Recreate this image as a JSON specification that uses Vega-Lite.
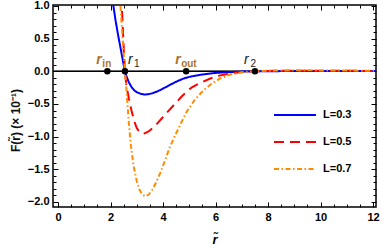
{
  "$schema": "https://vega.github.io/schema/vega-lite/v6.json",
  "width": 323,
  "height": 202,
  "autosize": {"type": "none"},
  "padding": {"left": 53, "top": 5, "right": 6, "bottom": 41},
  "config": {
    "font": "Liberation Sans",
    "view": {"stroke": "black", "strokeWidth": 1.5},
    "axis": {"grid": false, "domain": false, "tickColor": "black", "tickWidth": 1, "labelFont": "Liberation Sans", "labelFontWeight": "bold", "labelFontSize": 11, "labelColor": "black", "titleFont": "Liberation Sans", "titleColor": "black", "titleFontSize": 11, "titleFontWeight": "normal", "labelOverlap": false, "labelFlush": false}
  },
  "datasets": {
    "curves": [
      {"L": 0.3, "r": 2.0, "F": 1.45}, {"L": 0.3, "r": 2.11, "F": 1.0}, {"L": 0.3, "r": 2.2, "F": 0.76}, {"L": 0.3, "r": 2.3, "F": 0.53}, {"L": 0.3, "r": 2.4, "F": 0.32}, {"L": 0.3, "r": 2.5, "F": 0.1}, {"L": 0.3, "r": 2.55, "F": 0.0}, {"L": 0.3, "r": 2.62, "F": -0.09}, {"L": 0.3, "r": 2.7, "F": -0.17}, {"L": 0.3, "r": 2.8, "F": -0.24}, {"L": 0.3, "r": 2.9, "F": -0.29}, {"L": 0.3, "r": 3.0, "F": -0.32}, {"L": 0.3, "r": 3.15, "F": -0.345}, {"L": 0.3, "r": 3.3, "F": -0.355}, {"L": 0.3, "r": 3.45, "F": -0.35}, {"L": 0.3, "r": 3.6, "F": -0.335}, {"L": 0.3, "r": 3.8, "F": -0.305}, {"L": 0.3, "r": 4.0, "F": -0.265}, {"L": 0.3, "r": 4.25, "F": -0.21}, {"L": 0.3, "r": 4.5, "F": -0.16}, {"L": 0.3, "r": 4.75, "F": -0.115}, {"L": 0.3, "r": 5.0, "F": -0.085}, {"L": 0.3, "r": 5.4, "F": -0.055}, {"L": 0.3, "r": 5.9, "F": -0.028}, {"L": 0.3, "r": 6.5, "F": -0.012}, {"L": 0.3, "r": 7.0, "F": -0.004}, {"L": 0.3, "r": 7.5, "F": 0.0}, {"L": 0.3, "r": 8.0, "F": 0.002}, {"L": 0.3, "r": 9.0, "F": 0.004}, {"L": 0.3, "r": 10.0, "F": 0.004}, {"L": 0.3, "r": 11.0, "F": 0.003}, {"L": 0.3, "r": 12.2, "F": 0.003},
      {"L": 0.5, "r": 2.3, "F": 1.9}, {"L": 0.5, "r": 2.43, "F": 1.0}, {"L": 0.5, "r": 2.47, "F": 0.65}, {"L": 0.5, "r": 2.51, "F": 0.3}, {"L": 0.5, "r": 2.55, "F": 0.0}, {"L": 0.5, "r": 2.6, "F": -0.2}, {"L": 0.5, "r": 2.7, "F": -0.42}, {"L": 0.5, "r": 2.8, "F": -0.6}, {"L": 0.5, "r": 2.9, "F": -0.76}, {"L": 0.5, "r": 3.0, "F": -0.87}, {"L": 0.5, "r": 3.1, "F": -0.93}, {"L": 0.5, "r": 3.2, "F": -0.955}, {"L": 0.5, "r": 3.3, "F": -0.95}, {"L": 0.5, "r": 3.45, "F": -0.92}, {"L": 0.5, "r": 3.6, "F": -0.87}, {"L": 0.5, "r": 3.8, "F": -0.79}, {"L": 0.5, "r": 4.0, "F": -0.7}, {"L": 0.5, "r": 4.2, "F": -0.61}, {"L": 0.5, "r": 4.45, "F": -0.5}, {"L": 0.5, "r": 4.7, "F": -0.39}, {"L": 0.5, "r": 4.9, "F": -0.31}, {"L": 0.5, "r": 5.1, "F": -0.245}, {"L": 0.5, "r": 5.4, "F": -0.18}, {"L": 0.5, "r": 5.8, "F": -0.11}, {"L": 0.5, "r": 6.1, "F": -0.07}, {"L": 0.5, "r": 6.45, "F": -0.04}, {"L": 0.5, "r": 6.8, "F": -0.018}, {"L": 0.5, "r": 7.2, "F": -0.005}, {"L": 0.5, "r": 7.5, "F": 0.0}, {"L": 0.5, "r": 8.0, "F": 0.006}, {"L": 0.5, "r": 9.0, "F": 0.01}, {"L": 0.5, "r": 10.0, "F": 0.009}, {"L": 0.5, "r": 11.0, "F": 0.007}, {"L": 0.5, "r": 12.2, "F": 0.006},
      {"L": 0.7, "r": 2.28, "F": 1.7}, {"L": 0.7, "r": 2.38, "F": 1.0}, {"L": 0.7, "r": 2.47, "F": 0.45}, {"L": 0.7, "r": 2.55, "F": 0.0}, {"L": 0.7, "r": 2.62, "F": -0.35}, {"L": 0.7, "r": 2.7, "F": -0.8}, {"L": 0.7, "r": 2.78, "F": -1.15}, {"L": 0.7, "r": 2.88, "F": -1.45}, {"L": 0.7, "r": 3.0, "F": -1.68}, {"L": 0.7, "r": 3.1, "F": -1.81}, {"L": 0.7, "r": 3.2, "F": -1.88}, {"L": 0.7, "r": 3.32, "F": -1.915}, {"L": 0.7, "r": 3.45, "F": -1.89}, {"L": 0.7, "r": 3.6, "F": -1.81}, {"L": 0.7, "r": 3.75, "F": -1.69}, {"L": 0.7, "r": 3.9, "F": -1.55}, {"L": 0.7, "r": 4.08, "F": -1.36}, {"L": 0.7, "r": 4.25, "F": -1.17}, {"L": 0.7, "r": 4.46, "F": -0.98}, {"L": 0.7, "r": 4.7, "F": -0.78}, {"L": 0.7, "r": 4.9, "F": -0.62}, {"L": 0.7, "r": 5.2, "F": -0.44}, {"L": 0.7, "r": 5.54, "F": -0.29}, {"L": 0.7, "r": 5.85, "F": -0.19}, {"L": 0.7, "r": 6.17, "F": -0.11}, {"L": 0.7, "r": 6.55, "F": -0.05}, {"L": 0.7, "r": 7.0, "F": -0.015}, {"L": 0.7, "r": 7.5, "F": 0.0}, {"L": 0.7, "r": 8.0, "F": 0.01}, {"L": 0.7, "r": 9.0, "F": 0.016}, {"L": 0.7, "r": 10.0, "F": 0.014}, {"L": 0.7, "r": 11.0, "F": 0.011}, {"L": 0.7, "r": 12.2, "F": 0.009}
    ],
    "points": [
      {"name": "rin", "r": 1.88, "F": 0, "main": "r", "sub": "in", "kind": "radius"},
      {"name": "r1", "r": 2.55, "F": 0, "main": "r", "sub": "1", "kind": "root"},
      {"name": "rout", "r": 4.88, "F": 0, "main": "r", "sub": "out", "kind": "radius"},
      {"name": "r2", "r": 7.5, "F": 0, "main": "r", "sub": "2", "kind": "root"}
    ]
  },
  "resolve": {"axis": {"x": "independent", "y": "independent"}},
  "layer": [
    {
      "data": {"name": "points"},
      "mark": {"type": "rule", "color": "black", "strokeWidth": 1},
      "encoding": {"y": {"datum": 0, "type": "quantitative", "scale": {"domain": [-2.077, 1.015], "nice": false, "zero": false}, "axis": null}}
    },
    {
      "data": {"name": "curves"},
      "mark": {"type": "line", "strokeWidth": 2, "clip": true},
      "encoding": {
        "x": {"field": "r", "type": "quantitative", "scale": {"domain": [-0.19, 12.11], "nice": false, "zero": false},
          "axis": {"orient": "bottom", "values": [0, 0.5, 1, 1.5, 2, 2.5, 3, 3.5, 4, 4.5, 5, 5.5, 6, 6.5, 7, 7.5, 8, 8.5, 9, 9.5, 10, 10.5, 11, 11.5, 12],
            "labelExpr": "datum.value % 2 === 0 ? format(datum.value, 'd') : ''",
            "tickSize": {"condition": {"test": "datum.value % 2 === 0", "value": -5}, "value": -3},
            "labelPadding": 9, "title": "r̃", "titleFontStyle": "italic", "titleFontWeight": "bold", "titleFontSize": 13, "titlePadding": 9}},
        "y": {"field": "F", "type": "quantitative", "scale": {"domain": [-2.077, 1.015], "nice": false, "zero": false},
          "axis": {"orient": "left", "values": [-2.0, -1.9, -1.8, -1.7, -1.6, -1.5, -1.4, -1.3, -1.2, -1.1, -1.0, -0.9, -0.8, -0.7, -0.6, -0.5, -0.4, -0.3, -0.2, -0.1, 0, 0.1, 0.2, 0.3, 0.4, 0.5, 0.6, 0.7, 0.8, 0.9, 1.0],
            "labelExpr": "abs(datum.value*2 - round(datum.value*2)) < 0.001 ? format(datum.value, '.1f') : ''",
            "tickSize": {"condition": {"test": "abs(datum.value*2 - round(datum.value*2)) < 0.001", "value": -5}, "value": -3},
            "labelPadding": 9, "title": "F(r̃)  (× 10⁻¹)", "titleFontSize": 12, "titleFontWeight": "bold", "titleColor": "#111111", "titlePadding": 5, "titleY": 115}},
        "color": {"field": "L", "type": "nominal", "scale": {"domain": [0.3, 0.5, 0.7], "range": ["#0000ff", "#ff0000", "#ff8c00"]},
          "legend": {"orient": "none", "legendX": 220, "legendY": 88, "title": null, "labelExpr": "'L=' + datum.label", "symbolType": "stroke", "symbolSize": 1764, "symbolStrokeWidth": 2, "rowPadding": -21.5, "labelFontSize": 11, "labelFontWeight": "bold", "labelFont": "Liberation Sans", "labelColor": "black", "labelOffset": 6, "padding": 0}},
        "strokeDash": {"field": "L", "type": "nominal", "scale": {"domain": [0.3, 0.5, 0.7], "range": [[1, 0], [10, 6], [5, 2.5, 1.5, 2.5]]},
          "legend": {"orient": "none", "legendX": 220, "legendY": 88, "title": null, "labelExpr": "'L=' + datum.label", "symbolType": "stroke", "symbolSize": 1764, "symbolStrokeWidth": 2, "rowPadding": -21.5, "labelFontSize": 11, "labelFontWeight": "bold", "labelFont": "Liberation Sans", "labelColor": "black", "labelOffset": 6, "padding": 0}},
        "order": {"field": "r", "type": "quantitative"}
      }
    },
    {
      "data": {"name": "points"},
      "mark": {"type": "circle", "color": "black", "opacity": 1, "size": 42},
      "encoding": {
        "x": {"field": "r", "type": "quantitative",
          "axis": {"orient": "top", "labels": false, "title": null, "values": [0, 0.5, 1, 1.5, 2, 2.5, 3, 3.5, 4, 4.5, 5, 5.5, 6, 6.5, 7, 7.5, 8, 8.5, 9, 9.5, 10, 10.5, 11, 11.5, 12],
            "tickSize": {"condition": {"test": "datum.value % 2 === 0", "value": -5}, "value": -3}}},
        "y": {"field": "F", "type": "quantitative",
          "axis": {"orient": "right", "labels": false, "title": null, "values": [-2.0, -1.9, -1.8, -1.7, -1.6, -1.5, -1.4, -1.3, -1.2, -1.1, -1.0, -0.9, -0.8, -0.7, -0.6, -0.5, -0.4, -0.3, -0.2, -0.1, 0, 0.1, 0.2, 0.3, 0.4, 0.5, 0.6, 0.7, 0.8, 0.9, 1.0],
            "tickSize": {"condition": {"test": "abs(datum.value*2 - round(datum.value*2)) < 0.001", "value": -5}, "value": -3}}}
      }
    },
    {
      "data": {"name": "points"},
      "transform": [{"filter": "datum.kind === 'radius'"}],
      "mark": {"type": "text", "font": "Liberation Sans", "fontStyle": "italic", "fontWeight": "bold", "fontSize": 14, "align": "left", "baseline": "alphabetic", "dx": -11, "dy": -7, "color": "#a8742c", "opacity": 1},
      "encoding": {
        "x": {"field": "r", "type": "quantitative", "axis": null},
        "y": {"field": "F", "type": "quantitative", "axis": null},
        "text": {"field": "main"}
      }
    },
    {
      "data": {"name": "points"},
      "transform": [{"filter": "datum.kind === 'radius'"}],
      "mark": {"type": "text", "font": "Liberation Sans", "fontWeight": "bold", "fontSize": 10, "align": "left", "baseline": "alphabetic", "dx": -5, "dy": -4, "color": "#a8742c", "opacity": 1},
      "encoding": {
        "x": {"field": "r", "type": "quantitative", "axis": null},
        "y": {"field": "F", "type": "quantitative", "axis": null},
        "text": {"field": "sub"}
      }
    },
    {
      "data": {"name": "points"},
      "transform": [{"filter": "datum.name === 'r2'"}],
      "mark": {"type": "text", "font": "Liberation Sans", "fontStyle": "italic", "fontSize": 14, "align": "left", "baseline": "alphabetic", "dx": -11, "dy": -7, "color": "#222222"},
      "encoding": {
        "x": {"field": "r", "type": "quantitative", "axis": null},
        "y": {"field": "F", "type": "quantitative", "axis": null},
        "text": {"field": "main"}
      }
    },
    {
      "data": {"name": "points"},
      "transform": [{"filter": "datum.name === 'r2'"}],
      "mark": {"type": "text", "font": "Liberation Sans", "fontSize": 10, "align": "left", "baseline": "alphabetic", "dx": -4.5, "dy": -4, "color": "#222222"},
      "encoding": {
        "x": {"field": "r", "type": "quantitative", "axis": null},
        "y": {"field": "F", "type": "quantitative", "axis": null},
        "text": {"field": "sub"}
      }
    },
    {
      "data": {"name": "points"},
      "transform": [{"filter": "datum.name === 'r1'"}],
      "mark": {"type": "text", "font": "Liberation Sans", "fontStyle": "italic", "fontSize": 14, "align": "left", "baseline": "alphabetic", "dx": 3, "dy": -7, "color": "#222222"},
      "encoding": {
        "x": {"field": "r", "type": "quantitative", "axis": null},
        "y": {"field": "F", "type": "quantitative", "axis": null},
        "text": {"field": "main"}
      }
    },
    {
      "data": {"name": "points"},
      "transform": [{"filter": "datum.name === 'r1'"}],
      "mark": {"type": "text", "font": "Liberation Sans", "fontSize": 10, "align": "left", "baseline": "alphabetic", "dx": 9, "dy": -4, "color": "#222222"},
      "encoding": {
        "x": {"field": "r", "type": "quantitative", "axis": null},
        "y": {"field": "F", "type": "quantitative", "axis": null},
        "text": {"field": "sub"}
      }
    }
  ]
}
